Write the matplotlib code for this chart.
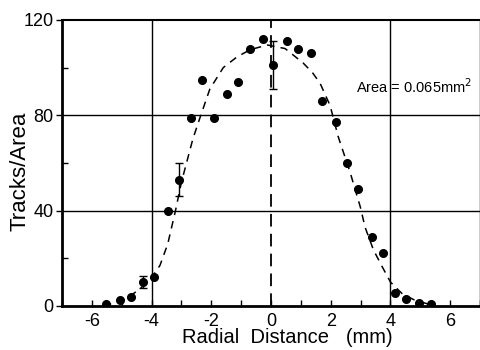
import matplotlib
matplotlib.use("Agg")
import matplotlib.pyplot as plt
from matplotlib.ticker import MultipleLocator

plt.rcParams['font.family'] = ['Liberation Sans', 'DejaVu Sans']

# measured points
pts_x = [-5.54, -5.07, -4.7, -4.3, -3.93, -3.46, -3.09, -2.68, -2.32, -1.91,
         -1.48, -1.11, -0.7, -0.27, 0.07, 0.53, 0.91, 1.34, 1.71, 2.17,
         2.55, 2.92, 3.39, 3.76, 4.16, 4.53, 4.97, 5.37]
pts_y = [0.8, 2.5, 3.8, 10, 12, 40, 53, 79, 95, 79,
         89, 94, 108, 112, 101, 111, 108, 106, 86, 77,
         60, 49, 29, 22, 5.5, 3, 1.3, 0.8]

# error bars
err_x = [-4.3, -3.09, 0.07]
err_y = [10, 53, 101]
err_lo = [2.5, 7, 10]
err_hi = [2.5, 7, 10]

# fitted curve
fit_x = [-5.6, -5.2, -4.8, -4.4, -4.0, -3.72, -3.46, -3.2, -3.0, -2.62, -2.38,
         -2.05, -1.6, -1.14, -0.7, -0.13, 0.47, 1.07, 1.38, 1.64, 1.98, 2.25,
         2.65, 2.99, 3.15, 3.43, 3.72, 4.0, 4.4, 4.8, 5.2, 5.5]
fit_y = [0, 1.5, 3.5, 7, 12, 17, 26, 40, 52, 70, 79,
         91, 100, 104.5, 107.5, 109.5, 108, 102, 98, 93.5, 84, 71,
         56, 41.5, 33, 23.5, 16.5, 10, 5, 2.5, 1, 0]

x_ticks = [-6, -4, -2, 0, 2, 4, 6]
y_ticks = [0, 40, 80, 120]

fig = plt.figure(figsize=(4.81, 3.5), dpi=100)
ax = fig.add_axes([0.129, 0.126, 0.869, 0.817])
ax.set_xlim(-7, 7)
ax.set_ylim(0, 120)

# grid
for gx in [-4, 4]:
    ax.axvline(gx, color='black', lw=1.0, zorder=1)
ax.axvline(0, color='black', lw=1.3, ls=(0, (7, 4)), zorder=1)
for gy in [40, 80]:
    ax.axhline(gy, color='black', lw=1.0, zorder=1)

ax.plot(fit_x, fit_y, color='black', lw=1.1, ls=(0, (5, 4)), zorder=2)
ax.plot(pts_x, pts_y, 'o', color='black', ms=5.5, zorder=3)
ax.errorbar(err_x, err_y, yerr=[err_lo, err_hi], fmt='none', ecolor='black',
            elinewidth=1.0, capsize=3, capthick=1.0, zorder=3)

ax.text(2.85, 92, 'Area = 0.065mm$^2$', fontsize=10.5, ha='left', va='center')

ax.set_xticks(x_ticks)
ax.set_yticks(y_ticks)
ax.xaxis.set_minor_locator(MultipleLocator(1))
ax.yaxis.set_minor_locator(MultipleLocator(20))
ax.tick_params(axis='x', which='both', direction='in', length=4, width=1, labelsize=13, pad=5)
ax.tick_params(axis='y', which='major', direction='out', length=4, width=1, labelsize=13, pad=2)
ax.tick_params(axis='y', which='minor', direction='in', length=4, width=1)
ax.set_xticklabels(['-6', '-4', '-2', '0', '2', '4', '6'])

ax.spines['left'].set_linewidth(2)
ax.spines['bottom'].set_linewidth(2)
ax.spines['top'].set_linewidth(1.5)
ax.spines['right'].set_linewidth(1.0)

ax.set_xlabel('Radial  Distance   (mm)', fontsize=14.5)
ax.xaxis.set_label_coords(0.54, -0.078, transform=ax.transAxes)
ax.xaxis.label.set_va('top')
ax.set_ylabel('Tracks/Area', fontsize=16)
ax.yaxis.set_label_coords(-0.075, 0.47)

fig.savefig('out.png', dpi=100)
